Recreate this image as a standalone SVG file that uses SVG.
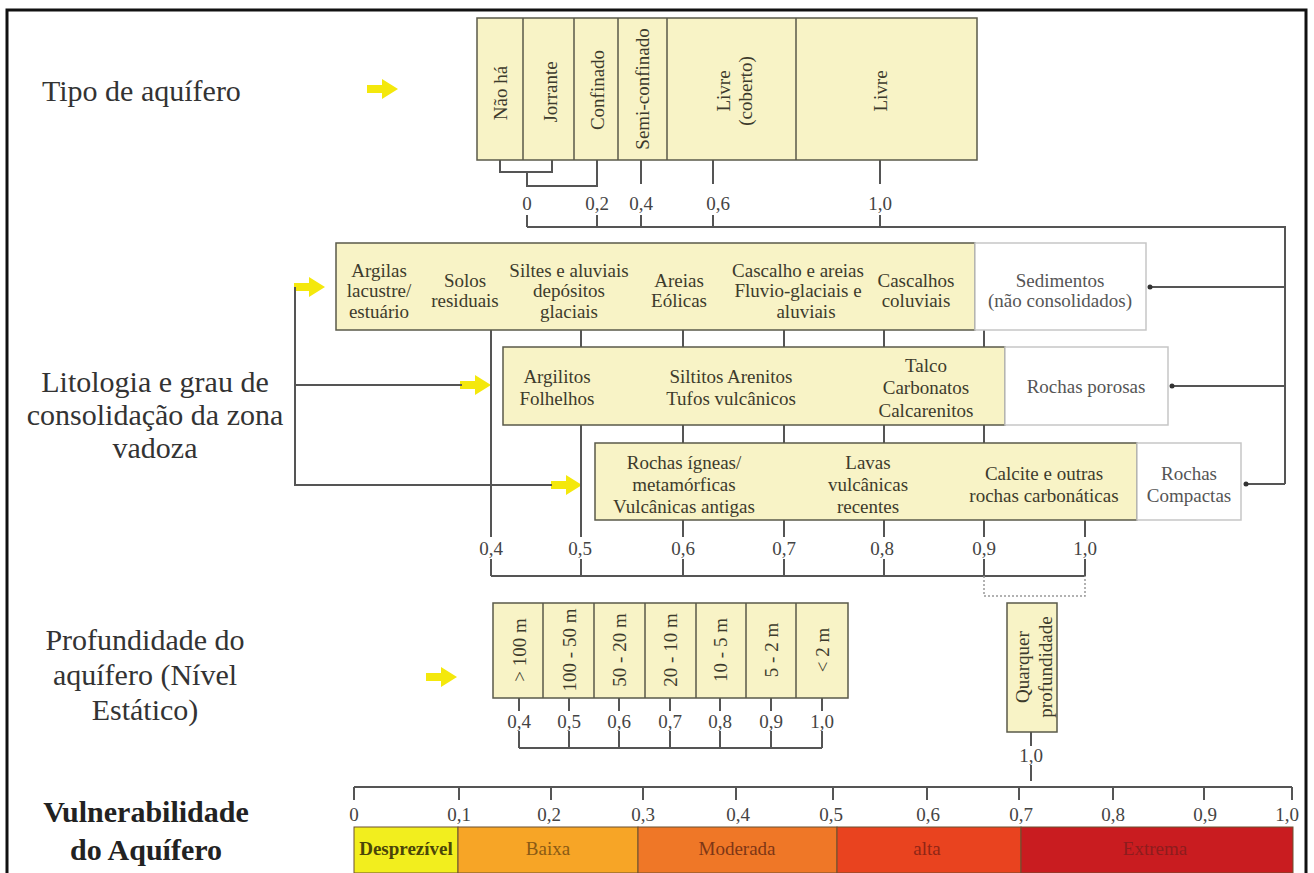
<svg xmlns="http://www.w3.org/2000/svg" width="1314" height="873" viewBox="0 0 1314 873">
<defs>
<style>
.s{font-family:"Liberation Serif","Times New Roman",serif}
.big{font-size:30px;fill:#333}
.t{font-size:19px;fill:#3d3b2c;text-anchor:middle}
.tw{font-size:19px;fill:#555;text-anchor:middle}
.n{font-size:19px;fill:#444;text-anchor:middle}
.cell{fill:#f8f3c6;stroke:#5a5a4a;stroke-width:1.5}
.wcell{fill:#fff;stroke:#c6c6c6;stroke-width:1.5}
.ln{stroke:#555;stroke-width:2;fill:none}
.dv{stroke:#5a5a4a;stroke-width:1.5}
.bar{stroke:#6b5030;stroke-width:1}
</style>
<path id="yarrow" d="M0,-4 L15,-4 L15,-10 L31,0 L15,10 L15,4 L0,4 Z" fill="#f4e80c"/>
<marker id="dot" markerWidth="6" markerHeight="6" refX="3" refY="3" markerUnits="userSpaceOnUse"><circle cx="3" cy="3" r="2.5" fill="#333"/></marker>
</defs>
<rect x="0" y="0" width="1314" height="873" fill="#fff"/>
<rect x="7" y="10" width="1299" height="880" fill="none" stroke="#111" stroke-width="3"/>

<!-- left titles -->
<g id="title-tipo" class="s"><text class="big" x="42" y="101" font-size="31">Tipo de aquífero</text></g>
<g id="title-litologia" class="s">
<text class="big" x="155" y="392" text-anchor="middle">Litologia e grau de</text>
<text class="big" x="155" y="425" text-anchor="middle">consolidação da zona</text>
<text class="big" x="155" y="458" text-anchor="middle">vadoza</text>
</g>
<g id="title-profundidade" class="s">
<text class="big" x="145" y="650" text-anchor="middle">Profundidade do</text>
<text class="big" x="145" y="685" text-anchor="middle">aquífero (Nível</text>
<text class="big" x="145" y="720" text-anchor="middle">Estático)</text>
</g>
<g id="title-vulnerabilidade" class="s">
<text x="146" y="822" font-size="30" font-weight="bold" fill="#222" text-anchor="middle">Vulnerabilidade</text>
<text x="146" y="860" font-size="30" font-weight="bold" fill="#222" text-anchor="middle">do Aquífero</text>
</g>

<!-- yellow arrows -->
<g id="arrows">
<use href="#yarrow" x="367" y="89"/>
<use href="#yarrow" x="294" y="287"/>
<use href="#yarrow" x="460" y="385"/>
<use href="#yarrow" x="551" y="485"/>
<use href="#yarrow" x="426" y="677"/>
</g>

<!-- connectors -->
<g id="connectors" class="ln">
<path d="M500,160 V172 H552 V160"/>
<path d="M527,172 V186 H597 V160"/>
<path d="M641,160 V184 M713,160 V184 M880,160 V184"/>
<path d="M527,215 V227 M597,215 V227 M641,215 V227 M713,215 V227 M880,215 V227"/>
<path d="M527,227 H1285 V484"/>
<path d="M1285,287 H1150" marker-end="url(#dot)"/>
<path d="M1285,386 H1172" marker-end="url(#dot)"/>
<path d="M1285,484 H1246" marker-end="url(#dot)"/>
<path d="M295,287 V485 H552 M295,385 H462"/>
<path d="M491,330 V537 M491,559 V576"/>
<path d="M581,330 V347 M581,425 V537 M581,559 V576"/>
<path d="M683,330 V347 M683,425 V443 M683,520 V537 M683,559 V576"/>
<path d="M784,330 V347 M784,425 V443 M784,520 V537 M784,559 V576"/>
<path d="M884,330 V347 M884,425 V443 M884,520 V537 M884,559 V576"/>
<path d="M984,330 V347 M984,425 V443 M984,520 V537 M984,559 V576"/>
<path d="M1085,520 V537 M1085,559 V576"/>
<path d="M491,576 H1085"/>
<path d="M984,576 V596 H1085 V576" stroke="#999" stroke-width="1.5" stroke-dasharray="2,2"/>
<path d="M1031,732 V746 M1031,765 V781"/>
<path d="M519,698 V711 M569,698 V711 M619,698 V711 M670,698 V711 M720,698 V711 M771,698 V711 M822,698 V711"/>
<path d="M519,731 V748 M569,731 V748 M619,731 V748 M670,731 V748 M720,731 V748 M771,731 V748 M822,731 V748"/>
<path d="M519,748 H822"/>
</g>

<!-- Tipo de aquifero -->
<g id="tipo-aquifero" class="s">
<rect class="cell" x="477" y="18" width="500" height="142"/>
<path class="dv" d="M523,18 V160 M574,18 V160 M618,18 V160 M667,18 V160 M796,18 V160"/>
<text class="t" font-size="20" transform="translate(500,93) rotate(-90)" y="7">Não há</text>
<text class="t" font-size="20" transform="translate(550,92) rotate(-90)" y="7">Jorrante</text>
<text class="t" font-size="20" transform="translate(597,90) rotate(-90)" y="7">Confinado</text>
<text class="t" font-size="20" transform="translate(642,89) rotate(-90)" y="7">Semi-confinado</text>
<text class="t" font-size="20" transform="translate(723,91) rotate(-90)" y="7">Livre</text>
<text class="t" font-size="20" transform="translate(745,91) rotate(-90)" y="7">(coberto)</text>
<text class="t" font-size="20" transform="translate(880,91) rotate(-90)" y="7">Livre</text>
</g>
<g id="tipo-valores" class="s">
<text class="n" x="527" y="210">0</text>
<text class="n" x="597" y="210">0,2</text>
<text class="n" x="641" y="210">0,4</text>
<text class="n" x="718" y="210">0,6</text>
<text class="n" x="880" y="210">1,0</text>
</g>

<!-- Row 1 -->
<g id="sedimentos-classes" class="s">
<rect class="cell" x="336" y="243" width="639" height="87"/>
<text class="t"><tspan x="379" y="277">Argilas</tspan><tspan x="379" y="297">lacustre/</tspan><tspan x="379" y="318">estuário</tspan></text>
<text class="t"><tspan x="465" y="287">Solos</tspan><tspan x="465" y="307">residuais</tspan></text>
<text class="t"><tspan x="569" y="277">Siltes e aluviais</tspan><tspan x="569" y="297">depósitos</tspan><tspan x="569" y="318">glaciais</tspan></text>
<text class="t"><tspan x="679" y="287">Areias</tspan><tspan x="679" y="307">Eólicas</tspan></text>
<text class="t"><tspan x="798" y="277">Cascalho e areias</tspan><tspan x="798" y="297">Fluvio-glaciais e</tspan><tspan x="806" y="318">aluviais</tspan></text>
<text class="t"><tspan x="916" y="287">Cascalhos</tspan><tspan x="916" y="307">coluviais</tspan></text>
</g>
<g id="sedimentos" class="s">
<rect class="wcell" x="975" y="243" width="171" height="87"/>
<text class="tw"><tspan x="1060" y="287">Sedimentos</tspan><tspan x="1060" y="307">(não consolidados)</tspan></text>
</g>

<!-- Row 2 -->
<g id="rochas-porosas-classes" class="s">
<rect class="cell" x="503" y="347" width="502" height="78"/>
<text class="t"><tspan x="557" y="383">Argilitos</tspan><tspan x="557" y="405">Folhelhos</tspan></text>
<text class="t"><tspan x="731" y="383">Siltitos Arenitos</tspan><tspan x="731" y="405">Tufos vulcânicos</tspan></text>
<text class="t"><tspan x="926" y="372">Talco</tspan><tspan x="926" y="394">Carbonatos</tspan><tspan x="926" y="417">Calcarenitos</tspan></text>
</g>
<g id="rochas-porosas" class="s">
<rect class="wcell" x="1005" y="347" width="163" height="78"/>
<text class="tw" x="1086" y="393">Rochas porosas</text>
</g>

<!-- Row 3 -->
<g id="rochas-compactas-classes" class="s">
<rect class="cell" x="595" y="443" width="542" height="77"/>
<text class="t"><tspan x="684" y="469">Rochas ígneas/</tspan><tspan x="684" y="491">metamórficas</tspan><tspan x="684" y="513">Vulcânicas antigas</tspan></text>
<text class="t"><tspan x="868" y="469">Lavas</tspan><tspan x="868" y="491">vulcânicas</tspan><tspan x="868" y="513">recentes</tspan></text>
<text class="t"><tspan x="1044" y="480">Calcite e outras</tspan><tspan x="1044" y="502">rochas carbonáticas</tspan></text>
</g>
<g id="rochas-compactas" class="s">
<rect class="wcell" x="1137" y="443" width="104" height="77"/>
<text class="tw"><tspan x="1189" y="480">Rochas</tspan><tspan x="1189" y="502">Compactas</tspan></text>
</g>
<g id="litologia-valores" class="s">
<text class="n" x="491" y="555">0,4</text>
<text class="n" x="580" y="555">0,5</text>
<text class="n" x="683" y="555">0,6</text>
<text class="n" x="784" y="555">0,7</text>
<text class="n" x="882" y="555">0,8</text>
<text class="n" x="984" y="555">0,9</text>
<text class="n" x="1085" y="555">1,0</text>
</g>

<!-- Profundidade -->
<g id="profundidade" class="s">
<rect class="cell" x="493" y="603" width="355" height="95"/>
<path class="dv" d="M543,603 V698 M594,603 V698 M645,603 V698 M696,603 V698 M746,603 V698 M796,603 V698"/>
<text class="t" transform="translate(519,650) rotate(-90)" y="7">&gt; 100 m</text>
<text class="t" transform="translate(569,650) rotate(-90)" y="7">100 - 50 m</text>
<text class="t" transform="translate(619,650) rotate(-90)" y="7">50 - 20 m</text>
<text class="t" transform="translate(670,650) rotate(-90)" y="7">20 - 10 m</text>
<text class="t" transform="translate(720,650) rotate(-90)" y="7">10 - 5 m</text>
<text class="t" transform="translate(771,650) rotate(-90)" y="7">5 - 2 m</text>
<text class="t" transform="translate(822,650) rotate(-90)" y="7">&lt; 2 m</text>
</g>
<g id="profundidade-valores" class="s">
<text class="n" x="519" y="728">0,4</text>
<text class="n" x="569" y="728">0,5</text>
<text class="n" x="619" y="728">0,6</text>
<text class="n" x="670" y="728">0,7</text>
<text class="n" x="720" y="728">0,8</text>
<text class="n" x="771" y="728">0,9</text>
<text class="n" x="822" y="728">1,0</text>
</g>
<g id="qualquer-profundidade" class="s">
<rect class="cell" x="1007" y="603" width="50" height="129"/>
<text class="t" transform="translate(1022,667) rotate(-90)" y="7">Quarquer</text>
<text class="t" transform="translate(1045,667) rotate(-90)" y="7">profundidade</text>
<text class="n" x="1031" y="762">1,0</text>
</g>

<!-- Vulnerability scale -->
<g id="escala" class="s">
<path class="ln" d="M354,787 H1292 M354,787 V800 M459,787 V800 M551,787 V800 M643,787 V800 M736,787 V800 M833,787 V800 M927,787 V800 M1019,787 V800 M1113,787 V800 M1204,787 V800 M1292,787 V800"/>
<text class="n" x="354" y="821">0</text>
<text class="n" x="459" y="821">0,1</text>
<text class="n" x="549" y="821">0,2</text>
<text class="n" x="643" y="821">0,3</text>
<text class="n" x="738" y="821">0,4</text>
<text class="n" x="831" y="821">0,5</text>
<text class="n" x="928" y="821">0,6</text>
<text class="n" x="1021" y="821">0,7</text>
<text class="n" x="1113" y="821">0,8</text>
<text class="n" x="1205" y="821">0,9</text>
<text class="n" x="1287" y="821">1,0</text>
</g>
<g id="classes-vulnerabilidade" class="s">
<rect class="bar" x="354" y="827" width="104" height="46" fill="#f2ee1e"/>
<rect class="bar" x="458" y="827" width="180" height="46" fill="#f7a526"/>
<rect class="bar" x="638" y="827" width="199" height="46" fill="#ef7727"/>
<rect class="bar" x="837" y="827" width="184" height="46" fill="#e9431f"/>
<rect class="bar" x="1021" y="827" width="272" height="46" fill="#c91c20"/>
<text x="406" y="855" font-size="19" font-weight="bold" fill="#4a4508" text-anchor="middle">Desprezível</text>
<text x="548" y="855" font-size="19" fill="#8a5a14" text-anchor="middle">Baixa</text>
<text x="737" y="855" font-size="19" fill="#7d3616" text-anchor="middle">Moderada</text>
<text x="927" y="855" font-size="19" fill="#8f2616" text-anchor="middle">alta</text>
<text x="1155" y="855" font-size="19" fill="#8c1c1e" text-anchor="middle">Extrema</text>
</g>
</svg>
